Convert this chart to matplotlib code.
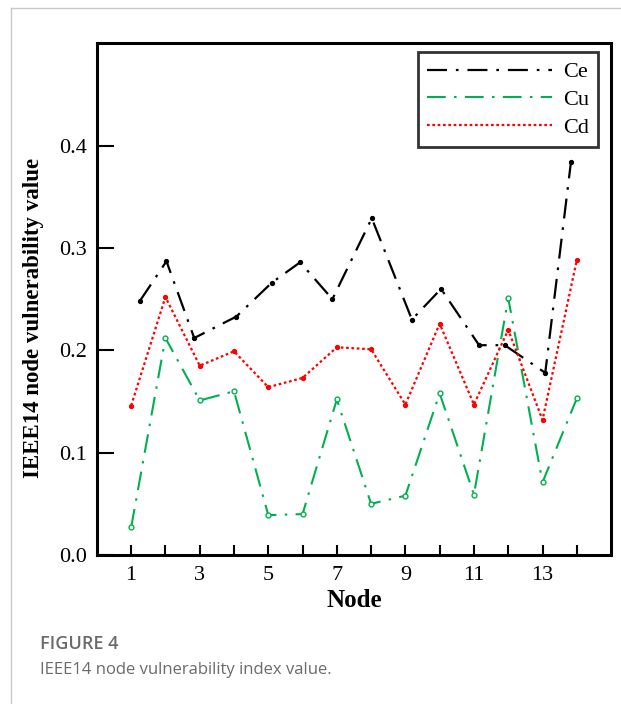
import matplotlib
matplotlib.use("Agg")
import matplotlib.pyplot as plt
from matplotlib.lines import Line2D

# node numbers and vulnerability values
nodes = list(range(1, 15))
ce_nodes = [1.25, 2.03, 2.84, 4.07, 5.10, 5.93, 6.87, 8.02, 9.19, 10.04, 11.15, 11.9, 13.08, 13.83]
ce = [0.248, 0.287, 0.212, 0.233, 0.266, 0.286, 0.250, 0.329, 0.230, 0.260, 0.205, 0.205, 0.178, 0.384]
cu = [0.027, 0.212, 0.151, 0.160, 0.039, 0.040, 0.152, 0.050, 0.058, 0.158, 0.059, 0.251, 0.071, 0.153]
cd = [0.146, 0.252, 0.185, 0.199, 0.164, 0.173, 0.203, 0.201, 0.147, 0.226, 0.147, 0.220, 0.132, 0.288]
tick_labels = ["1", "3", "5", "7", "9", "11", "13"]

serif = ["Liberation Serif", "DejaVu Serif"]
plt.rcParams["font.family"] = serif

fig = plt.figure(figsize=(6.21, 7.04), dpi=100)
ax = fig.add_axes([0.156, 0.2116, 0.828, 0.727])

dashdot = (9, 4, 1.2, 4)
ax.plot(ce_nodes, ce, color="black", lw=1.6, dashes=dashdot, marker="o", ms=2.8)
ax.plot(nodes, cu, color="#00b050", lw=1.5, dashes=dashdot,
        marker="o", ms=3.5, mfc="white", mew=1.0)
ax.plot(nodes, cd, color="#ff0000", lw=1.6, linestyle=(0, (1.2, 1.2)), marker="o", ms=2.8)

ax.set_xlim(0, 15)
ax.set_ylim(0, 0.5)
ax.set_xticks(nodes)
ax.set_xticklabels([str(n) if str(n) in tick_labels else "" for n in nodes])
ax.set_yticks([0.0, 0.1, 0.2, 0.3, 0.4])
ax.set_yticklabels(["0.0", "0.1", "0.2", "0.3", "0.4"])

for s in ax.spines.values():
    s.set_linewidth(2.2)
ax.tick_params(axis="both", direction="in", width=1.5, labelsize=16, colors="black")
ax.tick_params(axis="y", length=12, pad=7)
ax.tick_params(axis="x", length=7, pad=8)

ax.set_xlabel("Node", fontsize=18, fontweight="bold", labelpad=3)
ax.set_ylabel("IEEE14 node vulnerability value", fontsize=16.5, fontweight="bold")
ax.yaxis.set_label_coords(-0.103, 0.463)

# legend lines drawn without the point markers, as in the original
handles = [
    Line2D([], [], color="black", lw=1.6, dashes=dashdot),
    Line2D([], [], color="#00b050", lw=1.5, dashes=dashdot),
    Line2D([], [], color="#ff0000", lw=1.6, linestyle=(0, (1.2, 1.2))),
]
leg = ax.legend(handles, ["Ce", "Cu", "Cd"], loc="upper right", fontsize=16,
                handlelength=5.6, handletextpad=0.5, frameon=True, fancybox=False,
                borderaxespad=0, labelspacing=0.32, borderpad=0.42,
                bbox_to_anchor=(0.975, 0.982))
leg.get_frame().set_edgecolor("black")
leg.get_frame().set_linewidth(2.0)

# page border lines and caption
fig.add_artist(Line2D([0.018, 1.0], [0.989, 0.989], color="#c8c8c8", lw=1.0,
                      transform=fig.transFigure))
fig.add_artist(Line2D([0.018, 0.018], [0.0, 0.989], color="#c8c8c8", lw=1.0,
                      transform=fig.transFigure))
fig.text(40 / 621, 1 - 644 / 704, "FIGURE 4", family="Open Sans", fontsize=13,
         fontweight="semibold", color="#6b6b6b", va="center")
fig.text(40 / 621, 1 - 670 / 704, "IEEE14 node vulnerability index value.",
         family="Open Sans", fontsize=12, color="#6b6b6b", va="center")

fig.savefig("out.png", dpi=100)
